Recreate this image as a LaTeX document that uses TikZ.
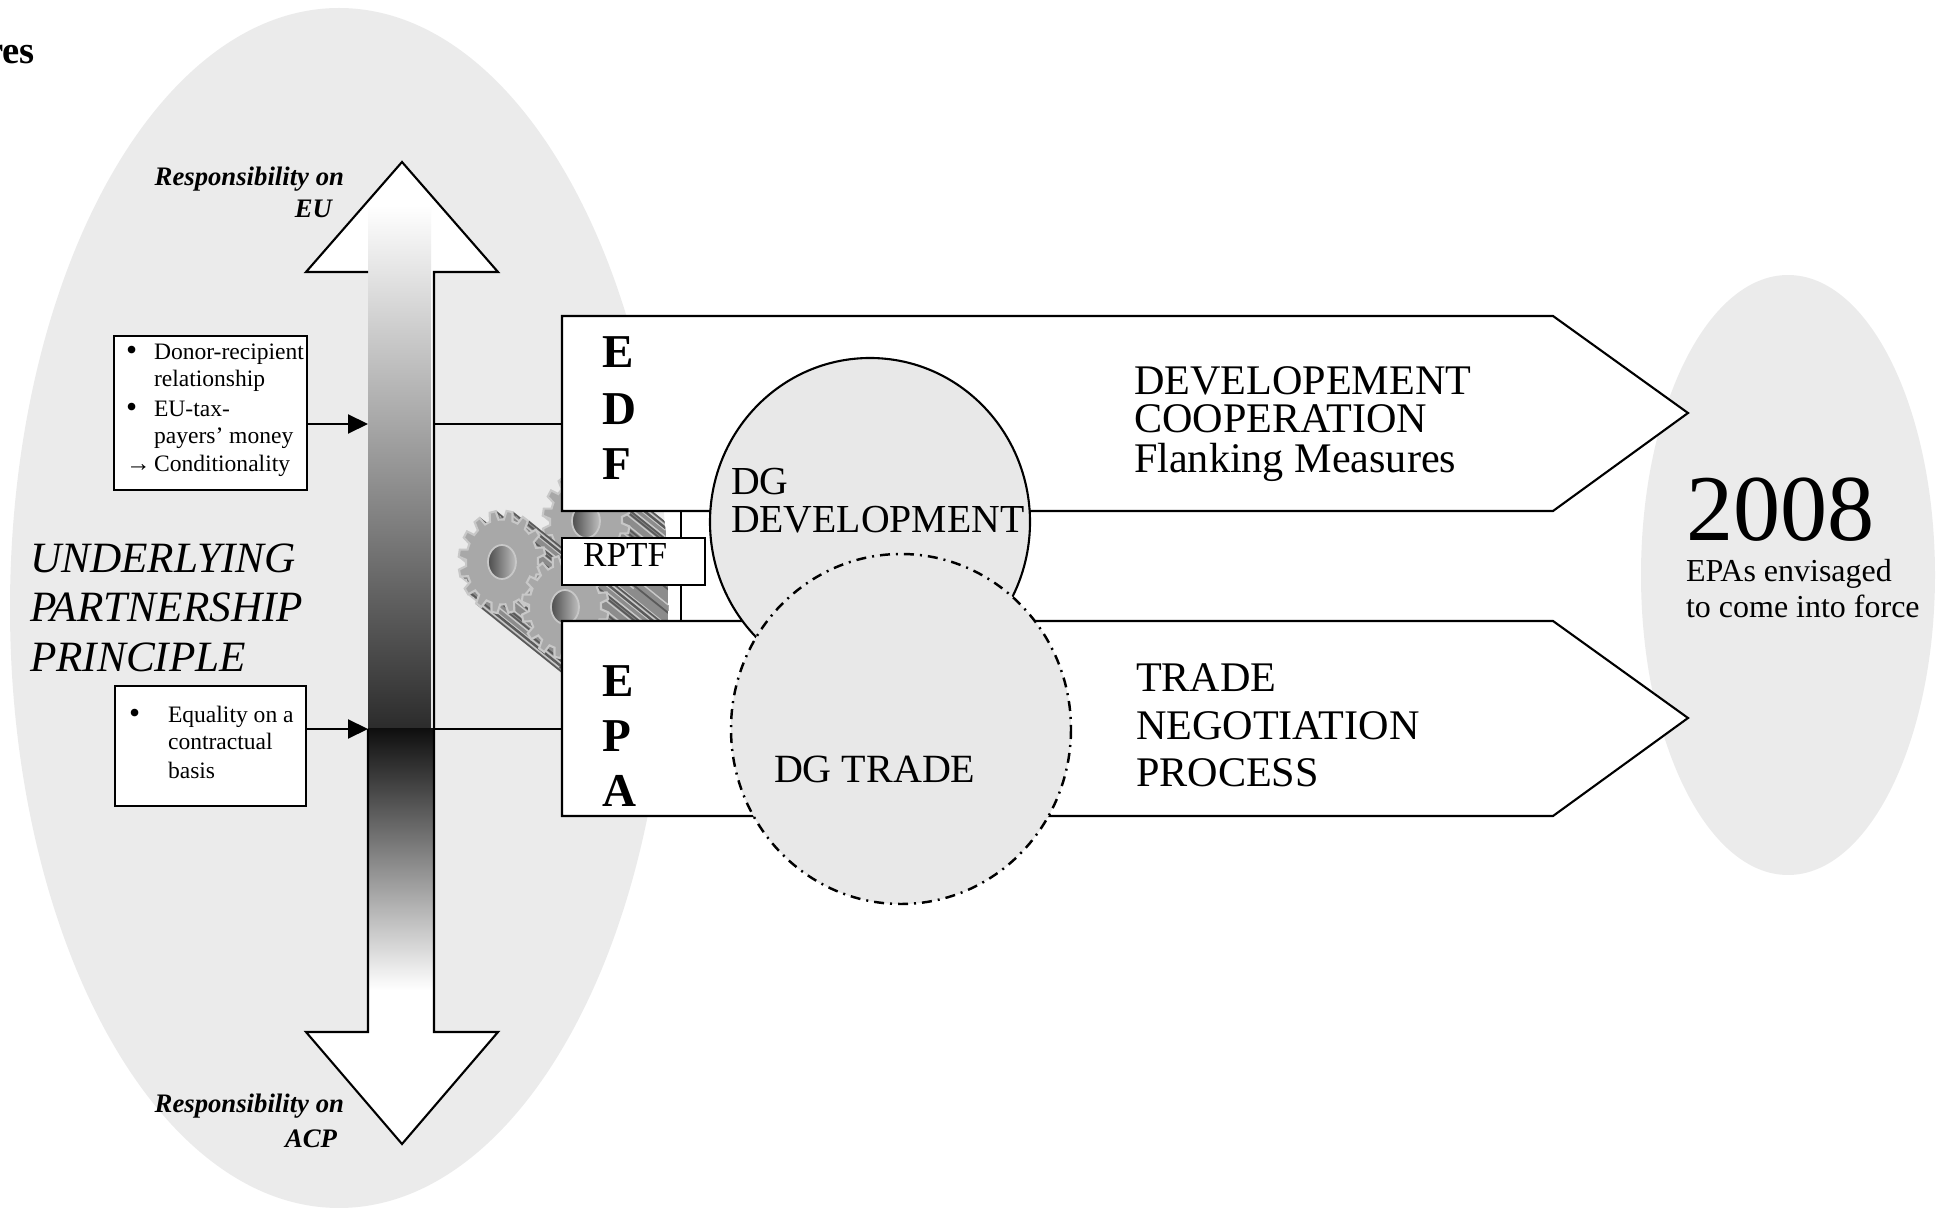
\documentclass[tikz,border=0pt]{standalone}
\usepackage{fontspec}
\setmainfont{Liberation Serif}
\usetikzlibrary{arrows.meta}

\definecolor{bggray}{RGB}{235,235,235}
\definecolor{dggray}{RGB}{232,232,232}
\definecolor{gearface}{RGB}{168,168,168}
\definecolor{gearbody}{RGB}{140,140,140}
\definecolor{gearedge}{RGB}{90,90,90}
\definecolor{gearrim}{RGB}{200,200,200}

\newcommand{\respfont}{\bfseries\itshape\fontsize{7.6}{9}\selectfont}
\newcommand{\itemfont}{\fontsize{6.7}{8}\selectfont}
\newcommand{\bulletfont}{\fontsize{9}{8}\selectfont}
\newcommand{\letterfont}{\bfseries\fontsize{13.4}{16}\selectfont}

% one gear face, centre (#1,#2), options #3
\newcommand{\drawgear}[3]{%
  \path[#3, shift={(#1,#2)}, yscale=1.18] (0:36)
    \foreach \a in {0,22.5,...,337.5} { -- (\a+3:36) -- (\a+6:43.5) -- (\a+14:43.5) -- (\a+17:36) -- (\a+22.5:36) } -- cycle;}
% extruded body of a gear, with ribs along the teeth
\newcommand{\gearbody}[2]{%
  \foreach \k in {26,...,1} {\drawgear{#1+3.5*\k}{#2+2.8*\k}{fill=gearbody}}
  \foreach \a in {0,22.5,...,337.5} {
    \draw[gearrim, line width=0.4pt] ({#1+43.5*cos(\a+6)},{#2+51.3*sin(\a+6)}) -- ++(91,73);
    \draw[gearedge, line width=0.5pt] ({#1+43.5*cos(\a+14)},{#2+51.3*sin(\a+14)}) -- ++(91,73);}}
% hole in the middle
\newcommand{\gearhole}[2]{%
  \shadedraw[left color=black!70, right color=black!25, draw=gearrim, line width=0.5pt, shift={(#1,#2)}] (0,0) ellipse [x radius=14, y radius=17];}

\begin{document}
\begin{tikzpicture}[x=0.1mm, y=-0.1mm, line width=0.6pt,
    lbl/.style={inner sep=0pt, anchor=base west},
    lblr/.style={inner sep=0pt, anchor=base east},
    infobox/.style={draw, fill=white, inner sep=0pt},
    bigarrow/.style={draw, fill=white},
    feed/.style={-{Triangle[length=2mm, width=1.9mm]}},
    dgcircle/.style={draw, fill=dggray},
    tradecircle/.style={draw, fill=dggray, line width=0.7pt, dash pattern=on 1mm off 0.6mm on 0.2mm off 0.6mm}]

  \useasboundingbox (0,0) rectangle (1940,1209);

  % Background
  \fill[bggray] (339,608) ellipse [x radius=329, y radius=600];
  \fill[bggray] (1788,575) ellipse [x radius=147, y radius=300];
  \node[lblr, font=\bfseries\fontsize{11}{13}\selectfont] (figres) at (36,64) {res};

  % Gears
  \begin{scope}
    \clip (339,608) ellipse [x radius=329, y radius=600];
    \gearbody{586}{521}
    \drawgear{586}{521}{fill=gearface, draw=gearrim}
    \gearhole{586}{521}
    \gearbody{502}{562}
    \drawgear{502}{562}{fill=gearface, draw=gearrim}
    \gearhole{502}{562}
    \gearbody{565}{607}
    \drawgear{565}{607}{fill=gearface, draw=gearrim}
    \gearhole{565}{607}
  \end{scope}

  % Responsibility arrow
  \fill[white] (368,272) -- (306,272) -- (402,162) -- (498,272) -- (434,272) -- (434,1032) -- (498,1032) -- (402,1144) -- (306,1032) -- (368,1032) -- cycle;
  \shade[top color=white, middle color=black!32, bottom color=black!83] (368,205) rectangle (431,729);
  \shade[top color=black!94, bottom color=white] (368,729) rectangle (434,990);
  \draw (368,272) -- (306,272) -- (402,162) -- (498,272) -- (434,272) -- (434,1032) -- (498,1032) -- (402,1144) -- (306,1032) -- (368,1032) -- (368,729);

  \node[lblr, font=\respfont] (euTop) at (345,186) {Responsibility on};
  \node[lblr, font=\respfont] (euBot) at (333,218) {EU};
  \node[lblr, font=\respfont] (acpTop) at (345,1112) {Responsibility on};
  \node[lblr, font=\respfont] (acpBot) at (338,1147) {ACP};

  % Boxes on the left
  \node[infobox, minimum width=19.3mm, minimum height=15.4mm] (donor) at (210.5,413) {};
  \node[infobox, minimum width=19.1mm, minimum height=12mm] (equal) at (210.5,746) {};

  \node[lbl, font=\bulletfont] (bulA) at (125,361) {•};
  \node[lbl, font=\itemfont] (donorA) at (153,360) {Donor-recipient};
  \node[lbl, font=\itemfont] (donorB) at (153,387) {relationship};
  \node[lbl, font=\bulletfont] (bulB) at (125,418) {•};
  \node[lbl, font=\itemfont] (donorC) at (153,417) {EU-tax-};
  \node[lbl, font=\itemfont] (donorD) at (153,444) {payers' money};
  \node[lbl, font=\fontsize{7}{8}\selectfont] (arrC) at (125,472) {→};
  \node[lbl, font=\itemfont] (donorE) at (153,472) {Conditionality};

  \node[lbl, font=\bulletfont] (bulC) at (128,724) {•};
  \node[lbl, font=\itemfont] (equalA) at (167,723) {Equality on a};
  \node[lbl, font=\itemfont] (equalB) at (167,750) {contractual};
  \node[lbl, font=\itemfont] (equalC) at (167,778) {basis};

  \node[lbl, font=\itshape\fontsize{12.3}{14}\selectfont] (uppA) at (29,573) {UNDERLYING};
  \node[lbl, font=\itshape\fontsize{12.3}{14}\selectfont] (uppB) at (29,622) {PARTNERSHIP};
  \node[lbl, font=\itshape\fontsize{12.3}{14}\selectfont] (uppC) at (29,672) {PRINCIPLE};

  % EDF and EPA arrows
  \path[bigarrow] (562,316) -- (1553,316) -- (1688,413) -- (1553,511) -- (562,511) -- cycle;
  \path[bigarrow] (562,621) -- (1553,621) -- (1688,718) -- (1553,816) -- (562,816) -- cycle;

  % Connectors
  \coordinate (euIn) at (368,424);
  \coordinate (euOut) at (434,424);
  \coordinate (acpIn) at (368,729);
  \coordinate (acpOut) at (434,729);
  \coordinate (edfW) at (562,424);
  \coordinate (epaW) at (562,729);
  \coordinate (edfS) at (681,511);
  \coordinate (epaN) at (681,621);
  \draw[feed] (donor.east |- euIn) -- (euIn);
  \draw (euOut) -- (edfW);
  \draw[feed] (equal.east |- acpIn) -- (acpIn);
  \draw (acpOut) -- (epaW);
  \draw (edfS) -- (epaN);

  \node[infobox, minimum width=14.3mm, minimum height=4.7mm] (rptf) at (633.5,561.5) {};
  \node[lbl, font=\fontsize{10}{12}\selectfont] (rptfText) at (582,567) {RPTF};

  % DG circles
  \path[dgcircle] (870,522) ellipse [x radius=160, y radius=164];
  \path[tradecircle] (901,729) ellipse [x radius=170, y radius=175];

  % Texts
  \node[lbl, font=\letterfont] (edfE) at (601,368) {E};
  \node[lbl, font=\letterfont] (edfD) at (601,425) {D};
  \node[lbl, font=\letterfont] (edfF) at (601,480) {F};
  \node[lbl, font=\letterfont] (epaE) at (601,697) {E};
  \node[lbl, font=\letterfont] (epaP) at (601,752) {P};
  \node[lbl, font=\letterfont] (epaA) at (601,807) {A};

  \node[lbl, font=\fontsize{11.3}{13}\selectfont] (dgdevA) at (730,495) {DG};
  \node[lbl, font=\fontsize{11.3}{13}\selectfont] (dgdevB) at (730,533) {DEVELOPMENT};
  \node[lbl, font=\fontsize{11.4}{13}\selectfont] (dgtrade) at (773,783) {DG TRADE};

  \node[lbl, font=\fontsize{12}{14}\selectfont] (devA) at (1133,395) {DEVELOPEMENT};
  \node[lbl, font=\fontsize{12}{14}\selectfont] (devB) at (1133,433) {COOPERATION};
  \node[lbl, font=\fontsize{12}{14}\selectfont] (devC) at (1133,473) {Flanking Measures};

  \node[lbl, font=\fontsize{12}{14}\selectfont] (tradeA) at (1135,692) {TRADE};
  \node[lbl, font=\fontsize{12}{14}\selectfont] (tradeB) at (1135,740) {NEGOTIATION};
  \node[lbl, font=\fontsize{12}{14}\selectfont] (tradeC) at (1135,787) {PROCESS};

  \node[lbl, font=\fontsize{26.8}{30}\selectfont] (year) at (1685,541) {2008};
  \node[lbl, font=\fontsize{9.1}{11}\selectfont] (yearA) at (1685,582) {EPAs envisaged};
  \node[lbl, font=\fontsize{9.1}{11}\selectfont] (yearB) at (1685,618) {to come into force};
\end{tikzpicture}
\end{document}
